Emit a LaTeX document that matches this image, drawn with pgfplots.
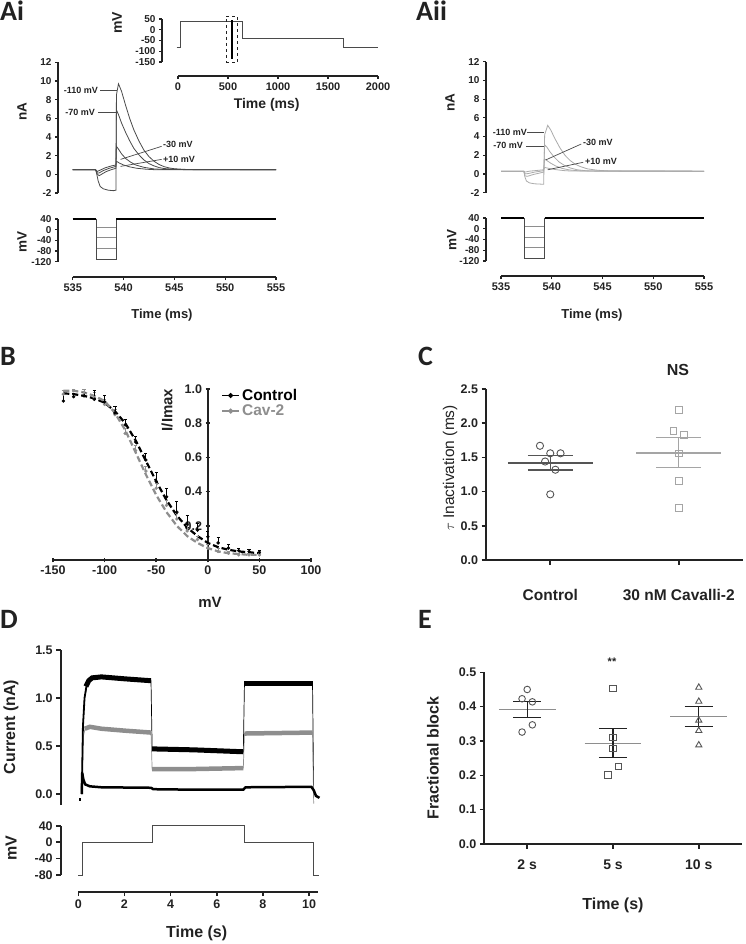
\documentclass[border=0pt]{standalone}
\usepackage{pgfplots}
\pgfplotsset{compat=1.18}
\usepackage{fontspec}
\setmainfont{Liberation Sans}
\newfontfamily\carlito{Carlito}
\definecolor{ink}{HTML}{222222}
\definecolor{trA}{HTML}{4A4A4A}
\definecolor{trB}{HTML}{ABABAB}
\definecolor{dgray}{HTML}{555555}
\definecolor{mgray}{HTML}{8E8E8E}
\definecolor{lgray}{HTML}{A5A5A5}
\newcommand{\tf}[1]{\fontsize{#1}{#1}\selectfont\bfseries}
\pgfplotsset{
  gp/.style={scale only axis, enlargelimits=false, clip=false,
    axis line style={ink, line width=1.9pt},
    tick style={ink, line width=1.6pt},
    tick align=outside, major tick length=4.5pt,
    tick label style={font=\tf{12.5}, text=ink},
    /pgf/number format/assume math mode=true,
    /pgf/number format/1000 sep={}},
  gpthin/.style={gp, axis line style={line width=1.1pt}, tick style={line width=1.1pt},
    major tick length=3pt, tick label style={font=\tf{10}}},
  yonly/.style={axis x line=none, axis y line*=left, xtick=\empty},
  xonly/.style={axis y line=none, axis x line*=bottom, ytick=\empty, height=1pt, ymin=0, ymax=1},
}
\begin{document}
\begin{tikzpicture}
\useasboundingbox (0,0) rectangle (745pt,-944pt);
%================ Ai inset protocol
\begin{axis}[gpthin, yonly, at={(162pt,-62pt)}, anchor=south west, width=216pt, height=43pt,
  xmin=-160, xmax=2000, ymin=-150, ymax=50, ytick={-150,-100,-50,0,50}]
\addplot[trA, line width=0.8pt] coordinates {(-15,-80) (27,-80) (27,40) (645,40) (645,-40) (1655,-40) (1655,-80) (2000,-80)};
\addplot[ink, line width=0.7pt, dashed] coordinates {(480,-152) (593,-152) (593,64) (480,64) (480,-152)};
\addplot[black, line width=2.2pt] coordinates {(537,45) (537,-135)};
\end{axis}
\begin{axis}[gpthin, xonly, at={(178pt,-76pt)}, anchor=south west, width=200pt,
  xmin=0, xmax=2000, xtick={0,500,...,2000}, xticklabel style={font=\tf{11}}]
\addplot[draw=none] coordinates {(0,0)};
\end{axis}
%================ Ai current
\begin{axis}[gpthin, yonly, at={(58pt,-193pt)}, anchor=south west, width=218pt, height=130.7pt,
  xmin=533.55, xmax=555, ymin=-2, ymax=12, ytick={-2,0,...,12}]
\addplot[trA, line width=0.8pt] coordinates {(535,0.5) (537.25,0.5) (537.35,0.1) (537.5,-0.7) (537.7,-1.3) (538.0,-1.55) (538.5,-1.7) (539.0,-1.75) (539.25,-1.7) (539.3,8.5) (539.5,9.7) (539.8,8.9) (540.2,7.4) (540.6,6.0) (541.0,4.8) (541.5,3.6) (542.0,2.6) (542.5,1.9) (543.0,1.4) (543.5,1.05) (544.0,0.82) (544.5,0.68) (545.0,0.6) (546.0,0.53) (547,0.5) (555,0.5)};
\addplot[trA, line width=0.8pt] coordinates {(535,0.5) (537.25,0.5) (537.4,0.05) (537.6,-0.15) (537.9,0.05) (538.3,0.3) (538.8,0.5) (539.25,0.65) (539.3,6.9) (539.5,6.4) (539.8,5.5) (540.2,4.5) (540.6,3.6) (541.0,2.8) (541.5,2.1) (542.0,1.55) (542.5,1.15) (543.0,0.9) (543.5,0.72) (544,0.62) (545,0.54) (546,0.5) (555,0.5)};
\addplot[trA, line width=0.8pt] coordinates {(535,0.5) (537.25,0.5) (537.4,0.15) (537.6,0.15) (538,0.4) (538.6,0.65) (539.25,0.85) (539.3,3.0) (539.5,2.7) (539.8,2.2) (540.2,1.7) (540.7,1.3) (541.2,1.0) (542,0.75) (543,0.58) (544,0.52) (555,0.5)};
\addplot[trA, line width=0.8pt] coordinates {(535,0.5) (537.25,0.5) (537.4,0.3) (537.7,0.45) (538.2,0.7) (538.8,0.9) (539.25,1.0) (539.3,1.4) (539.6,1.2) (540,1.0) (540.6,0.8) (541.3,0.65) (542.2,0.55) (543,0.5) (555,0.5)};
\addplot[trA, line width=0.7pt] coordinates {(537.7,9.0) (539.36,9.0)};
\addplot[trA, line width=0.7pt] coordinates {(537.5,6.66) (539.36,6.66)};
\addplot[trA, line width=0.7pt] coordinates {(543.75,3.0) (539.7,1.6)};
\addplot[trA, line width=0.7pt] coordinates {(543.75,1.6) (539.7,0.85)};
\end{axis}
%================ Ai voltage
\begin{axis}[gpthin, yonly, at={(58pt,-261.7pt)}, anchor=south west, width=218pt, height=42.7pt,
  xmin=533.55, xmax=555, ymin=-120, ymax=40, ytick={-120,-80,-40,0,40}]
\addplot[mgray, line width=0.6pt] coordinates {(537.3,10) (539.3,10)};
\addplot[mgray, line width=0.6pt] coordinates {(537.3,-30) (539.3,-30)};
\addplot[mgray, line width=0.6pt] coordinates {(537.3,-70) (539.3,-70)};
\addplot[trA, line width=0.8pt] coordinates {(537.3,40) (537.3,-110) (539.3,-110) (539.3,40)};
\addplot[black, line width=1.8pt] coordinates {(535,40) (537.3,40)};
\addplot[black, line width=1.8pt] coordinates {(539.3,40) (555,40)};
\end{axis}
\begin{axis}[gpthin, xonly, at={(72.7pt,-277pt)}, anchor=south west, width=203.3pt,
  xmin=535, xmax=555, xtick={535,540,...,555}, xticklabel style={font=\tf{11}}]
\addplot[draw=none] coordinates {(540,0)};
\end{axis}
%================ Aii current
\begin{axis}[gpthin, yonly, at={(486pt,-192.7pt)}, anchor=south west, width=218pt, height=131pt,
  xmin=533.52, xmax=555, ymin=-2, ymax=12, ytick={-2,0,...,12}]
\addplot[trB, line width=0.8pt] coordinates {(535,0.3) (537.25,0.3) (537.35,-0.3) (537.5,-0.75) (537.8,-0.95) (538.3,-1.05) (539.2,-1.1) (539.3,4.2) (539.6,5.2) (539.9,4.7) (540.3,3.8) (540.8,2.8) (541.3,2.0) (541.8,1.45) (542.3,1.05) (542.8,0.8) (543.5,0.55) (544.5,0.4) (545.5,0.33) (547,0.3) (555,0.3)};
\addplot[trB, line width=0.8pt] coordinates {(535,0.3) (537.25,0.3) (537.35,-0.2) (537.6,-0.25) (538.2,-0.05) (538.8,0.1) (539.2,0.2) (539.3,3.1) (539.5,2.9) (539.8,2.4) (540.2,1.85) (540.7,1.3) (541.2,0.95) (541.8,0.65) (542.5,0.45) (543.5,0.33) (555,0.3)};
\addplot[trB, line width=0.8pt] coordinates {(535,0.3) (537.25,0.3) (537.35,0.0) (537.7,0.05) (538.3,0.2) (539.2,0.35) (539.3,1.6) (539.5,1.45) (539.9,1.15) (540.4,0.85) (541,0.6) (541.8,0.42) (542.8,0.33) (555,0.3)};
\addplot[trB, line width=0.8pt] coordinates {(535,0.3) (537.25,0.3) (537.35,0.2) (537.8,0.3) (539.2,0.45) (539.3,0.7) (539.7,0.6) (540.3,0.48) (541.2,0.36) (542,0.31) (555,0.3)};
\addplot[trA, line width=0.7pt] coordinates {(537.56,4.45) (539.24,4.45)};
\addplot[trA, line width=0.7pt] coordinates {(537.46,3.0) (539.24,3.0)};
\addplot[trA, line width=0.7pt] coordinates {(542.9,3.2) (539.4,1.5)};
\addplot[trA, line width=0.7pt] coordinates {(543.1,1.25) (539.6,0.45)};
\end{axis}
%================ Aii voltage
\begin{axis}[gpthin, yonly, at={(486pt,-261pt)}, anchor=south west, width=218pt, height=43pt,
  xmin=533.52, xmax=555, ymin=-120, ymax=40, ytick={-120,-80,-40,0,40}]
\addplot[mgray, line width=0.6pt] coordinates {(537.3,10) (539.3,10)};
\addplot[mgray, line width=0.6pt] coordinates {(537.3,-30) (539.3,-30)};
\addplot[mgray, line width=0.6pt] coordinates {(537.3,-70) (539.3,-70)};
\addplot[trA, line width=0.8pt] coordinates {(537.3,40) (537.3,-110) (539.3,-110) (539.3,40)};
\addplot[black, line width=1.8pt] coordinates {(535,40) (537.3,40)};
\addplot[black, line width=1.8pt] coordinates {(539.3,40) (555,40)};
\end{axis}
\begin{axis}[gpthin, xonly, at={(501pt,-276pt)}, anchor=south west, width=203pt,
  xmin=535, xmax=555, xtick={535,540,...,555}, xticklabel style={font=\tf{11}}]
\addplot[draw=none] coordinates {(540,0)};
\end{axis}
%================ B
\begin{axis}[gp, at={(53pt,-560pt)}, anchor=south west, width=258pt, height=171pt,
  axis lines=middle, axis line style={-}, hide obscured x ticks=false,
  xmin=-150, xmax=100, ymin=0, ymax=1,
  xtick={-150,-100,...,100}, ytick={0.2,0.4,...,1.0},
  yticklabel style={/pgf/number format/.cd, fixed, fixed zerofill, precision=1}]
\addplot[black, line width=2.2pt, dash pattern=on 6pt off 3pt, forget plot] coordinates {(-140,0.975) (-130,0.97) (-120,0.96) (-110,0.945) (-100,0.92) (-90,0.87) (-80,0.8) (-70,0.7) (-60,0.58) (-50,0.46) (-40,0.35) (-30,0.26) (-20,0.19) (-10,0.14) (0,0.1) (10,0.075) (20,0.06) (30,0.05) (40,0.045) (50,0.04)};
\addplot[mgray, line width=2.2pt, dash pattern=on 6pt off 3pt, forget plot] coordinates {(-140,0.99) (-130,0.99) (-120,0.98) (-110,0.96) (-100,0.93) (-90,0.86) (-80,0.76) (-70,0.63) (-60,0.5) (-50,0.38) (-40,0.28) (-30,0.2) (-20,0.14) (-10,0.1) (0,0.07) (10,0.05) (20,0.04) (30,0.035) (40,0.03) (50,0.03)};
\addplot[mgray, only marks, mark=*, mark size=1.5pt,
  error bars/.cd, y dir=plus, y explicit, error bar style={line width=0.8pt, mgray},
  error mark options={rotate=90, mark size=1.6pt, line width=0.8pt, mgray}]
  coordinates {(-140,0.97)+-(0,0.02) (-130,0.99)+-(0,0.01) (-120,0.98)+-(0,0.02) (-110,0.95)+-(0,0.03) (-100,0.91)+-(0,0.03) (-90,0.85)+-(0,0.03) (-80,0.74)+-(0,0.03) (-70,0.64)+-(0,0.03) (-60,0.52)+-(0,0.03) (-50,0.42)+-(0,0.03) (-40,0.32)+-(0,0.03) (-30,0.24)+-(0,0.03) (-20,0.17)+-(0,0.03) (-10,0.12)+-(0,0.02) (0,0.07)+-(0,0.02) (10,0.05)+-(0,0.02) (20,0.04)+-(0,0.01) (30,0.03)+-(0,0.01) (40,0.03)+-(0,0.01) (50,0.03)+-(0,0.01)};
\addplot[black, only marks, mark=*, mark size=1.5pt,
  error bars/.cd, y dir=plus, y explicit, error bar style={line width=0.8pt, black},
  error mark options={rotate=90, mark size=1.6pt, line width=0.8pt, black}]
  coordinates {(-140,0.93)+-(0,0.04) (-130,0.955)+-(0,0.02) (-120,0.96)+-(0,0.02) (-110,0.94)+-(0,0.05) (-100,0.925)+-(0,0.04) (-90,0.86)+-(0,0.04) (-80,0.79)+-(0,0.03) (-70,0.69)+-(0,0.03) (-60,0.585)+-(0,0.04) (-50,0.46)+-(0,0.05) (-40,0.37)+-(0,0.05) (-30,0.28)+-(0,0.06) (-20,0.21)+-(0,0.05) (-10,0.175)+-(0,0.04) (0,0.136)+-(0,0.03) (10,0.1)+-(0,0.03) (20,0.07)+-(0,0.02) (30,0.055)+-(0,0.01) (40,0.05)+-(0,0.01) (50,0.045)+-(0,0.01)};
\end{axis}
% B legend
\begin{axis}[hide axis, scale only axis, at={(221pt,-387pt)}, anchor=north west, width=10pt, height=10pt,
  xmin=0, xmax=1, ymin=0, ymax=1,
  legend style={at={(0,1)}, anchor=north west, draw=none, fill=none, font=\tf{15.5}, row sep=-1pt, inner sep=0pt},
  legend cell align=left]
\addlegendimage{black, line width=1.8pt, mark=*, mark size=1.5pt}
\addlegendentry{Control}
\addlegendimage{mgray, line width=1.8pt, mark=*, mark size=1.5pt}
\addlegendentry{\textcolor{mgray}{Cav-2}}
\end{axis}
%================ C
\begin{axis}[gp, axis x line*=bottom, axis y line*=left, at={(486pt,-560pt)}, anchor=south west,
  width=257pt, height=171pt, xmin=0.5, xmax=2.5, ymin=0, ymax=2.5,
  xtick={1,2}, xticklabels={Control, 30 nM Cavalli-2},
  xticklabel style={font=\tf{15.5}, yshift=-21pt},
  ytick={0,0.5,...,2.5},
  yticklabel style={/pgf/number format/.cd, fixed, fixed zerofill, precision=1}]
\addplot[dgray, line width=1.3pt] coordinates {(0.67,1.42) (1.33,1.42)};
\addplot[dgray, line width=1.3pt] coordinates {(0.825,1.525) (1.175,1.525)};
\addplot[dgray, line width=1.3pt] coordinates {(0.825,1.316) (1.175,1.316)};
\addplot[dgray, line width=1.3pt] coordinates {(1,1.316) (1,1.525)};
\addplot[dgray, only marks, mark=o, mark size=3.6pt, mark options={line width=0.9pt}] coordinates {(0.92,1.67) (1.0,1.56) (1.08,1.56) (0.96,1.44) (1.04,1.32) (1.0,0.96)};
\addplot[lgray, line width=1.3pt] coordinates {(1.67,1.565) (2.33,1.565)};
\addplot[lgray, line width=1.3pt] coordinates {(1.825,1.79) (2.175,1.79)};
\addplot[lgray, line width=1.3pt] coordinates {(1.825,1.35) (2.175,1.35)};
\addplot[lgray, line width=1.3pt] coordinates {(2,1.35) (2,1.79)};
\addplot[lgray, only marks, mark=square, mark size=3.3pt, mark options={line width=0.9pt}] coordinates {(2.0,2.19) (1.96,1.885) (2.04,1.83) (2.0,1.56) (2.0,1.155) (2.0,0.765)};
\end{axis}
%================ D current
\begin{axis}[gp, yonly, at={(60.7pt,-805pt)}, anchor=south west, width=257.6pt, height=155pt,
  xmin=-0.763, xmax=10.4, ymin=-0.1146, ymax=1.5, ytick={0,0.5,1,1.5},
  yticklabel style={/pgf/number format/.cd, fixed, fixed zerofill, precision=1}]
\addplot[black, line width=0.7pt] coordinates {(0.15,0.0) (0.2,0.7) (0.27,1.0) (0.4,1.15) (0.6,1.2) (1.0,1.22) (2.0,1.2) (3.15,1.18) (3.2,0.47) (5.0,0.46) (7.15,0.44) (7.2,1.15) (10.15,1.15) (10.2,0.0)};
\addplot[mgray, line width=0.7pt] coordinates {(0.15,0.0) (0.22,0.6) (0.3,0.69) (0.5,0.7) (1.0,0.68) (2.0,0.66) (3.15,0.64) (3.2,0.25) (5,0.26) (7.15,0.27) (7.2,0.63) (10.15,0.64) (10.2,-0.1)};
\addplot[black, line width=1.8pt] coordinates {(0.15,0.0) (0.2,0.7) (0.27,1.0) (0.35,1.12)};
\addplot[black, line width=5pt] coordinates {(0.33,1.12) (0.45,1.18) (0.6,1.21) (1.0,1.22) (2.0,1.2) (3.15,1.18)};
\addplot[black, line width=5pt] coordinates {(3.2,0.47) (5,0.46) (7.15,0.44)};
\addplot[black, line width=5pt] coordinates {(7.2,1.15) (10.15,1.15)};
\addplot[mgray, line width=4.5pt] coordinates {(0.28,0.68) (0.5,0.7) (1.0,0.68) (2.0,0.66) (3.15,0.64)};
\addplot[mgray, line width=4.5pt] coordinates {(3.2,0.26) (5,0.26) (7.15,0.27)};
\addplot[mgray, line width=4.5pt] coordinates {(7.2,0.63) (10.15,0.64)};
\addplot[black, line width=3pt] coordinates {(0.03,-0.06) (0.12,-0.06)};
\addplot[black, line width=2.5pt] coordinates {(0.15,0.0) (0.17,0.22) (0.22,0.15) (0.3,0.1) (0.5,0.08) (1,0.07) (3.15,0.065) (3.25,0.05) (5,0.045) (7.15,0.045) (7.25,0.07) (10.1,0.075) (10.2,0.04) (10.3,-0.02) (10.45,-0.04)};
\end{axis}
%================ D voltage
\begin{axis}[gp, yonly, at={(60.7pt,-875pt)}, anchor=south west, width=257.6pt, height=49.3pt,
  xmin=-0.763, xmax=10.4, ymin=-80, ymax=40, ytick={-80,-40,0,40}]
\addplot[trA, line width=0.9pt] coordinates {(0,-80) (0.2,-80) (0.2,0) (3.2,0) (3.2,40) (7.2,40) (7.2,0) (10.2,0) (10.2,-80) (10.45,-80)};
\end{axis}
\begin{axis}[gp, xonly, at={(78.3pt,-891.7pt)}, anchor=south west, width=240pt,
  xmin=0, xmax=10.4, xtick={0,2,...,10}]
\addplot[draw=none] coordinates {(1,0)};
\end{axis}
%================ E
\begin{axis}[gp, axis x line*=bottom, axis y line*=left, at={(484.3pt,-844pt)}, anchor=south west,
  width=257.4pt, height=171.7pt, xmin=0.5, xmax=3.5, ymin=0, ymax=0.5,
  xtick={1,2,3}, xticklabels={2 s, 5 s, 10 s}, xticklabel style={font=\tf{14}, yshift=-8pt},
  ytick={0,0.1,...,0.5},
  yticklabel style={/pgf/number format/.cd, fixed, fixed zerofill, precision=1}]
\addplot[mgray, line width=1.3pt] coordinates {(0.67,0.392) (1.33,0.392)};
\addplot[ink, line width=1.3pt] coordinates {(0.835,0.416) (1.165,0.416)};
\addplot[ink, line width=1.3pt] coordinates {(0.835,0.368) (1.165,0.368)};
\addplot[ink, line width=1.3pt] coordinates {(1,0.368) (1,0.416)};
\addplot[dgray, only marks, mark=o, mark size=3.3pt, mark options={line width=0.9pt}] coordinates {(1.0,0.45) (0.94,0.423) (1.06,0.414) (1.06,0.347) (0.94,0.326)};
\addplot[mgray, line width=1.3pt] coordinates {(1.67,0.293) (2.33,0.293)};
\addplot[ink, line width=1.3pt] coordinates {(1.835,0.337) (2.165,0.337)};
\addplot[ink, line width=1.3pt] coordinates {(1.835,0.251) (2.165,0.251)};
\addplot[ink, line width=1.3pt] coordinates {(2,0.251) (2,0.337)};
\addplot[dgray, only marks, mark=square, mark size=3.1pt, mark options={line width=0.9pt}] coordinates {(2,0.452) (2,0.311) (2,0.278) (2.06,0.227) (1.94,0.201)};
\addplot[mgray, line width=1.3pt] coordinates {(2.67,0.371) (3.33,0.371)};
\addplot[ink, line width=1.3pt] coordinates {(2.835,0.4) (3.165,0.4)};
\addplot[ink, line width=1.3pt] coordinates {(2.835,0.342) (3.165,0.342)};
\addplot[ink, line width=1.3pt] coordinates {(3,0.342) (3,0.4)};
\addplot[dgray, only marks, mark=triangle, mark size=3.6pt, mark options={line width=0.9pt}] coordinates {(3,0.456) (3,0.415) (3,0.36) (3,0.33) (3,0.288)};
\end{axis}
%================ text
\begin{scope}[every node/.style={text=ink, inner sep=0pt}]
\node[font=\carlito\fontsize{28}{28}\selectfont\bfseries, anchor=base west] at (0pt,-20.5pt) {Ai};
\node[font=\carlito\fontsize{28}{28}\selectfont\bfseries, anchor=base west] at (416pt,-20.5pt) {Aii};
\node[font=\carlito\fontsize{28}{28}\selectfont\bfseries, anchor=base west] at (0pt,-365pt) {B};
\node[font=\carlito\fontsize{28}{28}\selectfont\bfseries, anchor=base west] at (418pt,-365pt) {C};
\node[font=\carlito\fontsize{28}{28}\selectfont\bfseries, anchor=base west] at (0pt,-628pt) {D};
\node[font=\carlito\fontsize{28}{28}\selectfont\bfseries, anchor=base west] at (418pt,-628pt) {E};
% Ai
\node[font=\tf{14}, rotate=90] at (117pt,-23pt) {mV};
\node[font=\tf{14}] at (266.7pt,-105pt) {Time (ms)};
\node[font=\tf{13.5}, rotate=90] at (22pt,-111.7pt) {nA};
\node[font=\tf{13.5}, rotate=90] at (22pt,-241.7pt) {mV};
\node[font=\tf{13}] at (162pt,-315pt) {Time (ms)};
\node[font=\tf{9}, anchor=east] at (98pt,-90.7pt) {-110 mV};
\node[font=\tf{9}, anchor=east] at (95pt,-112.7pt) {-70 mV};
\node[font=\tf{9}, anchor=west] at (163pt,-144pt) {-30 mV};
\node[font=\tf{9}, anchor=west] at (163pt,-159.3pt) {+10 mV};
% Aii
\node[font=\tf{13.5}, rotate=90] at (450pt,-103pt) {nA};
\node[font=\tf{13.5}, rotate=90] at (451.7pt,-240pt) {mV};
\node[font=\tf{13}] at (592pt,-315pt) {Time (ms)};
\node[font=\tf{9}, anchor=east] at (527pt,-132.3pt) {-110 mV};
\node[font=\tf{9}, anchor=east] at (523pt,-145.7pt) {-70 mV};
\node[font=\tf{9}, anchor=west] at (583pt,-142.7pt) {-30 mV};
\node[font=\tf{9}, anchor=west] at (585pt,-161.7pt) {+10 mV};
% B
\node[font=\tf{15}, rotate=90] at (167pt,-410pt) {I/Imax};
\node[font=\tf{15}] at (210pt,-602pt) {mV};
% C
\node[font=\fontsize{15.5}{15.5}\selectfont, rotate=90] at (450pt,-468pt) {$\tau$ Inactivation (ms)};
\node[font=\tf{16}] at (678pt,-370pt) {NS};
% D
\node[font=\tf{16}, rotate=90] at (11pt,-727pt) {Current (nA)};
\node[font=\tf{16}, rotate=90] at (11pt,-848pt) {mV};
\node[font=\tf{16}] at (196.7pt,-933pt) {Time (s)};
% E
\node[font=\tf{16}, rotate=90] at (433pt,-758pt) {Fractional block};
\node[font=\tf{16}] at (613pt,-905pt) {Time (s)};
\node[font=\tf{11}] at (612pt,-662pt) {**};
\end{scope}
\end{tikzpicture}
\end{document}
